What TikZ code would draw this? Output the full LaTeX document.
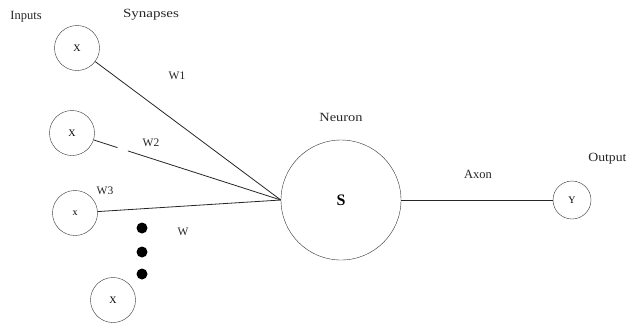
\documentclass[tikz,border=0pt]{standalone}
\usepackage{fontspec}
\setmainfont{Liberation Serif}
\usetikzlibrary{positioning}

\begin{document}
\begin{tikzpicture}[
  x=1pt, y=-1pt,
  inp/.style={draw=black!80, circle, minimum size=45pt, inner sep=0pt, font=\fontsize{10}{8}\selectfont},
  neuron/.style={draw=black!80, circle, minimum size=120pt, inner sep=0pt, font=\fontsize{16}{16}\selectfont\bfseries},
  outp/.style={draw=black!80, circle, minimum size=38pt, inner sep=0pt, font=\fontsize{10}{10}\selectfont},
  blob/.style={circle, fill=black, minimum size=11pt, inner sep=0pt},
  lbl/.style={font=\fontsize{12.5}{14}\selectfont, text=black!85, inner sep=1pt},
  wlbl/.style={font=\fontsize{11.5}{14}\selectfont, text=black!85, inner sep=1pt},
  syn/.style={draw=black!85, line width=0.8pt}
]
  \useasboundingbox (0,0) rectangle (626,325);

  % headings
  \node[lbl] (inputs) at (26,17) {Inputs};
  \node[lbl, xscale=1.2] (synapses) at (151,15) {Synapses};

  % input units
  \node[inp] (x1) at (77,48) {X};
  \node[inp] (x2) at (72,133) {X};
  \node[inp] (x3) at (75,213) {x};
  \node[inp] (x4) at (113,300) {X};

  % the dots
  \node[blob] (d1) at (142,228) {};
  \node[blob] (d2) at (142,252) {};
  \node[blob] (d3) at (142,274) {};

  % neuron and output
  \node[neuron] (s) at (341,200) {S};
  \node[outp] (y) at (572,200) {Y};

  \node[lbl, xscale=1.15] (neulbl) at (341,117) {Neuron};
  \node[lbl] (axlbl) at (478,174) {Axon};
  \node[lbl, anchor=west, xscale=1.1] (outlbl) at (587,159) {Output};

  % weights
  \node[wlbl] (w1) at (177,76) {W1};
  \node[wlbl] (w2) at (151,143) {W2};
  \node[wlbl] (w3) at (105,191) {W3};
  \node[wlbl] (w) at (183,232) {W};

  \draw[syn] (x1) -- (s.west);
  \draw[syn, dash pattern=on 25pt off 11pt on 300pt] (x2) -- (s.west);
  \draw[syn] (x3) -- (s.west);
  \draw[syn] (s) -- (y);
\end{tikzpicture}
\end{document}
